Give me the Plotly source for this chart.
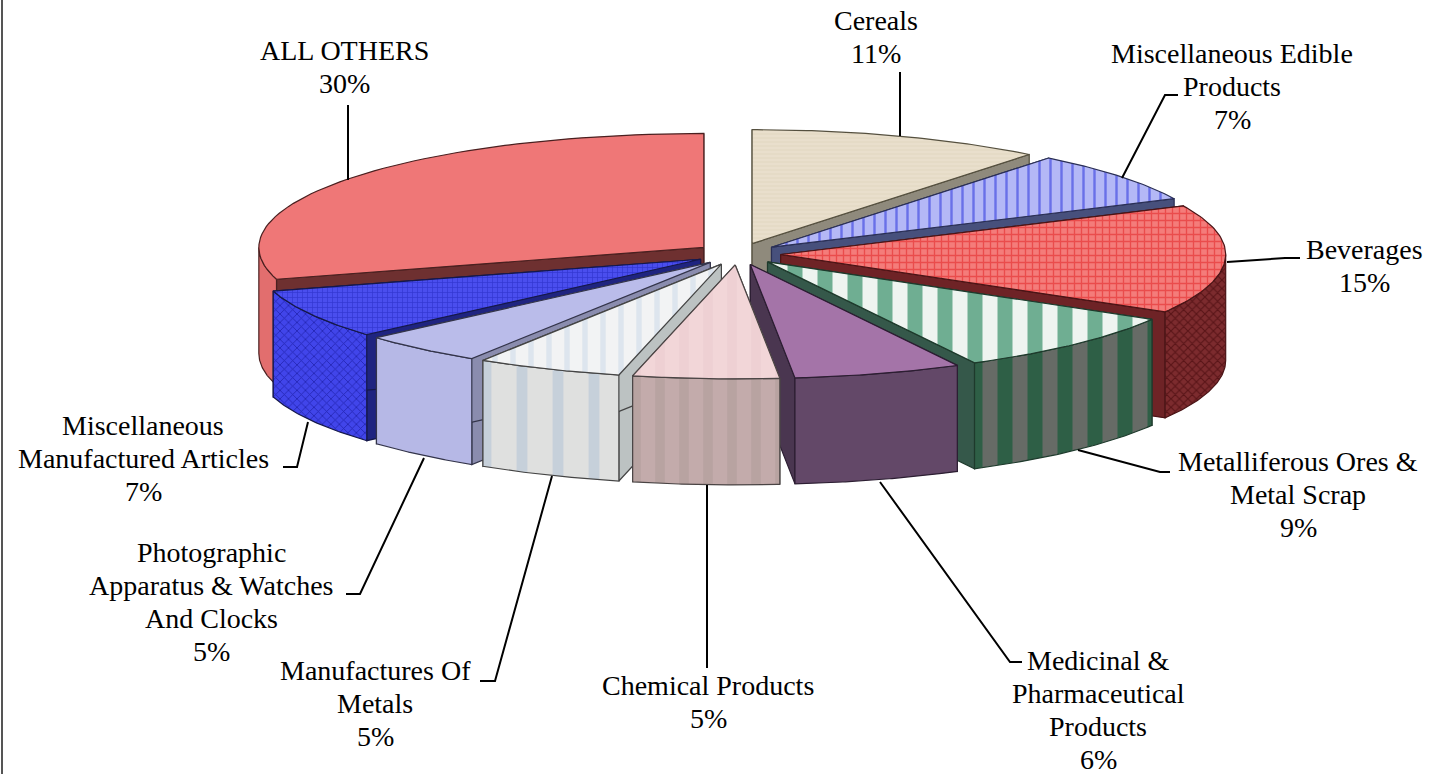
import math
import plotly.graph_objects as go

CATEGORIES = ["Cereals", "Miscellaneous Edible Products", "Beverages",
              "Metalliferous Ores & Metal Scrap", "Medicinal & Pharmaceutical Products",
              "Chemical Products", "Manufactures Of Metals",
              "Photographic Apparatus & Watches And Clocks",
              "Miscellaneous Manufactured Articles", "ALL OTHERS"]
SHARES = [10.7, 7.3, 15.4, 8.9, 6.1, 5.3, 5.3, 4.5, 7.0, 29.5]

LABEL_LINES = [["Cereals", "11%"],
               ["Miscellaneous Edible", "Products", "7%"],
               ["Beverages", "15%"],
               ["Metalliferous Ores &", "Metal Scrap", "9%"],
               ["Medicinal &", "Pharmaceutical", "Products", "6%"],
               ["Chemical Products", "5%"],
               ["Manufactures Of", "Metals", "5%"],
               ["Photographic", "Apparatus & Watches", "And Clocks", "5%"],
               ["Miscellaneous", "Manufactured Articles", "7%"],
               ["ALL OTHERS", "30%"]]

# layout (pixels in the page)
LABEL_POS = [(876, 20), (1232, 53), (1364, 249), (1298, 461), (1098, 660),
             (708, 685), (375, 670), (211, 552), (143, 425), (344, 50)]
LINE_STEP = 33
LEADERS = [[(900, 72), (900, 136)],
           [(1178, 95), (1165, 95), (1122, 178)],
           [(1227, 262), (1285, 258), (1300, 258)],
           [(1078, 450), (1160, 472), (1170, 472)],
           [(880, 482), (1010, 662), (1022, 662)],
           [(707, 485), (707, 668)],
           [(552, 476), (495, 681), (480, 681)],
           [(424, 458), (360, 594), (346, 594)],
           [(308, 422), (297, 467), (283, 467)],
           [(348, 105), (348, 180)]]
CX, CY, RX, RY, DEPTH, EXPLODE = 738, 254, 445, 114, 106, 0.096

STYLES = [
    dict(top="#E9DFCC", tfg="#E4DAC5", ts="-", ss=4, side="#A09A8C", sfg="#8A8578", sh="-", sz=5, wall="#8F8A7C", edge="#55503F", tsol=.4),
    dict(top="#B4B8F6", tfg="#6A70E8", ts="|", ss=11, side="#3F4A78", sfg="#2B3568", sh="", sz=6, wall="#47507C", edge="#2A2F55", tsol=.22),
    dict(top="#F47C7A", tfg="#EA4C4C", ts="+", ss=7, side="#7C2B2E", sfg="#5A1518", sh="x", sz=6, wall="#6E2326", edge="#4A1416", tsol=.35),
    dict(top="#EEF4F0", tfg="#6FAE92", ts="|", ss=30, side="#666B66", sfg="#2E5F46", sh="|", sz=30, wall="#35584A", edge="#1E3A2C", tsol=.5),
    dict(top="#A474A8", tfg="#A474A8", ts="", ss=8, side="#634868", sfg="#634868", sh="", sz=8, wall="#4A3650", edge="#2C1E32", tsol=.3),
    dict(top="#F2D6D8", tfg="#EED0D3", ts="|", ss=24, side="#C3ABAB", sfg="#B8A3A1", sh="|", sz=24, wall="#A89292", edge="#4A4444", tsol=.4),
    dict(top="#F2F3F4", tfg="#DDE5EE", ts="|", ss=18, side="#DFE0DF", sfg="#C6D0DA", sh="|", sz=36, wall="#BCC2C2", edge="#444444", tsol=.3),
    dict(top="#BABCEA", tfg="#BABCEA", ts="", ss=8, side="#B6B8E6", sfg="#B6B8E6", sh="", sz=8, wall="#8A8CAE", edge="#33344A", tsol=.3),
    dict(top="#4A4EEE", tfg="#3236D0", ts="+", ss=5, side="#4145EA", sfg="#2225B0", sh="x", sz=6, wall="#1F2480", edge="#15184A", tsol=.25),
    dict(top="#EF7777", tfg="#EF7777", ts="", ss=8, side="#E26E6E", sfg="#E26E6E", sh="", sz=8, wall="#6E3030", edge="#4A2020", tsol=.3),
]
FONT = "Liberation Serif"
FONT_SIZE = 28

fig = go.Figure()


def poly(pts, fill, edge, fg=None, shape="", size=8, sol=0.3, width=1.2):
    xs = [p[0] for p in pts] + [pts[0][0]]
    ys = [p[1] for p in pts] + [pts[0][1]]
    pat = dict(shape=shape, bgcolor=fill, fgcolor=fg or fill, fgopacity=1, size=size, solidity=sol) if shape else None
    fig.add_trace(go.Scatter(x=xs, y=ys, mode="lines", fill="toself", fillcolor=fill,
                             fillpattern=pat, line=dict(color=edge, width=width),
                             hoverinfo="skip", showlegend=False))


total = sum(SHARES)
slices = []
cum = 0.0
for i, v in enumerate(SHARES):
    a1 = cum / total * 2 * math.pi
    cum += v
    a2 = cum / total * 2 * math.pi
    slices.append((i, a1, a2, (a1 + a2) / 2))

for i, a1, a2, m in sorted(slices, key=lambda s: -math.cos(s[3])):
    st = STYLES[i]
    ax = CX + EXPLODE * RX * math.sin(m)
    ay = CY - EXPLODE * RY * math.cos(m)
    pt = lambda a, dz=0: (ax + RX * math.sin(a), ay - RY * math.cos(a) + dz)
    n = 60
    arc = [pt(a1 + (a2 - a1) * k / n) for k in range(n + 1)]
    for a in (a1, a2):
        poly([(ax, ay), pt(a), pt(a, DEPTH), (ax, ay + DEPTH)], st["wall"], st["edge"])
    lo, hi = max(a1, math.pi / 2), min(a2, 3 * math.pi / 2)
    if hi > lo:
        front = [lo + (hi - lo) * k / n for k in range(n + 1)]
        poly([pt(a) for a in front] + [pt(a, DEPTH) for a in reversed(front)],
             st["side"], st["edge"], st["sfg"], st["sh"], st["sz"], st["tsol"])
    poly([(ax, ay)] + arc, st["top"], st["edge"], st["tfg"], st["ts"], st["ss"], st["tsol"])

for path in LEADERS:
    fig.add_trace(go.Scatter(x=[p[0] for p in path], y=[p[1] for p in path], mode="lines",
                             line=dict(color="black", width=2), hoverinfo="skip", showlegend=False))

for (x, y), lines in zip(LABEL_POS, LABEL_LINES):
    for j, t in enumerate(lines):
        fig.add_annotation(x=x, y=y + j * LINE_STEP, text=t, showarrow=False, xanchor="center",
                           yanchor="middle", font=dict(family=FONT, size=FONT_SIZE, color="black"))

fig.add_shape(type="line", x0=2, x1=2, y0=0, y1=774, line=dict(color="#555555", width=2))
fig.update_layout(width=1435, height=774, margin=dict(l=0, r=0, t=0, b=0), showlegend=False,
                  paper_bgcolor="white", plot_bgcolor="white",
                  xaxis=dict(range=[0, 1435], visible=False, fixedrange=True),
                  yaxis=dict(range=[774, 0], visible=False, fixedrange=True))
fig.write_html("out.html", config=dict(displayModeBar=False), post_script="document.body.style.margin='0';")
